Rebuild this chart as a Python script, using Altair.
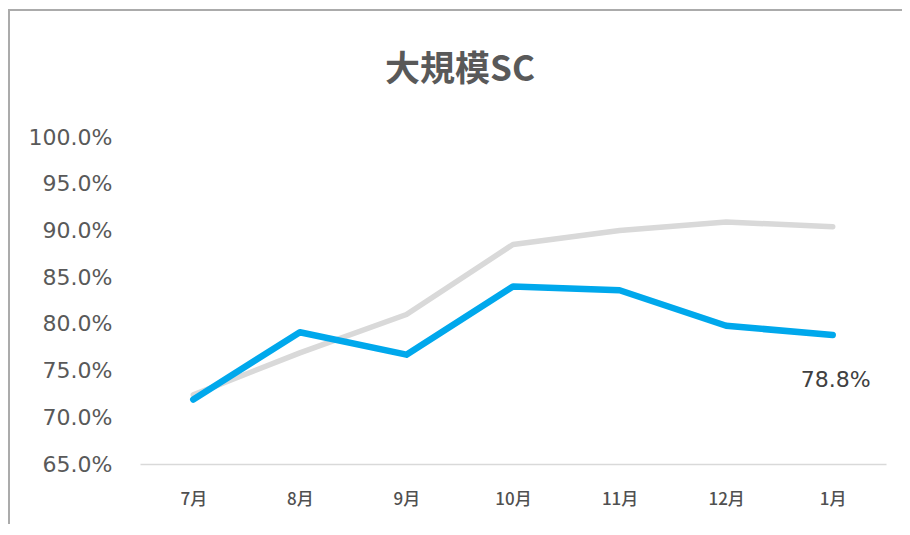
import altair as alt
import pandas as pd

months = ["7月", "8月", "9月", "10月", "11月", "12月", "1月"]
gray_values = [72.4, 76.9, 81.0, 88.5, 90.0, 90.9, 90.4]
blue_values = [71.9, 79.1, 76.7, 84.0, 83.6, 79.8, 78.8]
last_label = "78.8%"
title_text = "大規模SC"

FONT = "Noto Sans CJK JP"
NUM_FONT = "DejaVu Sans"

gray_df = pd.DataFrame({"month": months, "value": gray_values})
blue_df = pd.DataFrame({"month": months, "value": blue_values})
label_df = pd.DataFrame({"month": [months[-1]], "value": [blue_values[-1]], "text": [last_label]})
title_df = pd.DataFrame({"text": [title_text]})

x_enc = alt.X(
    "month:N",
    sort=months,
    scale=alt.Scale(paddingInner=0, paddingOuter=0),
    axis=alt.Axis(
        title=None,
        labelAngle=0,
        labelFont=FONT,
        labelFontSize=17,
        labelFontWeight=500,
        labelColor="#505050",
        labelPadding=27,
        ticks=False,
        domainColor="#d9d9d9",
        domainWidth=1.5,
        grid=False,
    ),
)
y_enc = alt.Y(
    "value:Q",
    scale=alt.Scale(domain=[65, 100], zero=False, nice=False),
    axis=alt.Axis(
        title=None,
        values=[65, 70, 75, 80, 85, 90, 95, 100],
        labelExpr="format(datum.value, '.1f') + '%'",
        labelFont=NUM_FONT,
        labelFontSize=22,
        labelColor="#595959",
        labelPadding=28,
        ticks=False,
        domain=False,
        grid=False,
    ),
)

gray_line = alt.Chart(gray_df).mark_line(
    color="#d9d9d9", strokeWidth=5.5, strokeCap="round", strokeJoin="round"
).encode(x=x_enc, y=y_enc)

blue_line = alt.Chart(blue_df).mark_line(
    color="#00a8ec", strokeWidth=6.5, strokeCap="round", strokeJoin="round"
).encode(x=x_enc, y=y_enc)

label = alt.Chart(label_df).mark_text(
    font=NUM_FONT, fontSize=22, color="#404040", dx=3, dy=45
).encode(x=alt.X("month:N", sort=months), y="value:Q", text="text:N")

title = alt.Chart(title_df).mark_text(
    font=FONT, fontSize=35, fontWeight="bold", color="#595959", baseline="middle", align="center"
).encode(x=alt.value(320), y=alt.value(-67), text="text:N")

border_top = alt.Chart(label_df).mark_rule(color="#ababab", strokeWidth=2).encode(
    x=alt.value(-131), x2=alt.value(800), y=alt.value(-127)
)
border_left = alt.Chart(label_df).mark_rule(color="#ababab", strokeWidth=2).encode(
    x=alt.value(-131), y=alt.value(-128), y2=alt.value(400)
)

chart = alt.layer(border_top, border_left, gray_line, blue_line, label, title).properties(
    width=746,
    height=327,
    autosize=alt.AutoSizeParams(type="none"),
    padding={"left": 132, "top": 129, "right": 16, "bottom": 60},
).configure_view(stroke=None)

chart.save("out.html", embed_options={"renderer": "svg", "actions": False})
